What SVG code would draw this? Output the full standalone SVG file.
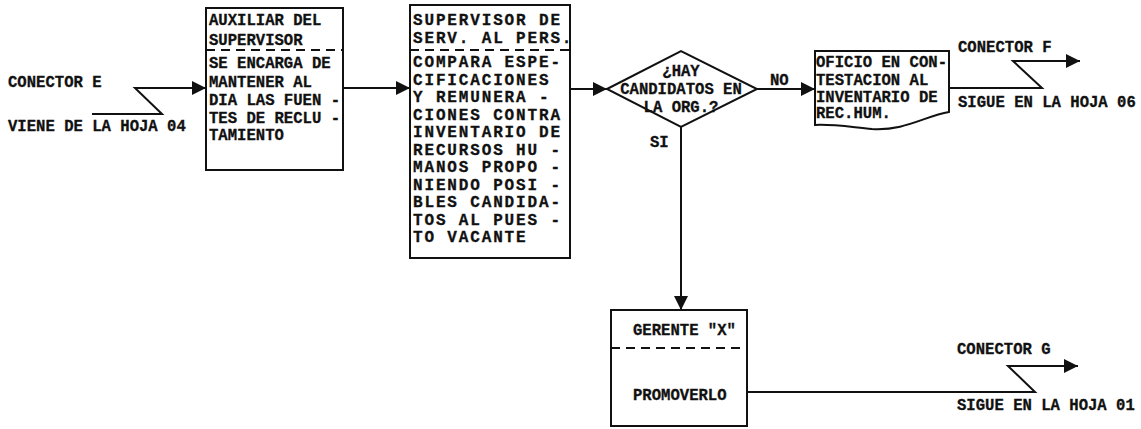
<svg xmlns="http://www.w3.org/2000/svg" width="1141" height="429" viewBox="0 0 1141 429">
  <style>
    .t { font-family: "Liberation Mono", "DejaVu Sans Mono", monospace; font-weight: bold; font-size: 15.6px; fill: #111; stroke: #111; stroke-width: 0.3px; }
    .w { letter-spacing: 1.85px; font-size: 16px; }
    .box { fill: #fff; stroke: #111; stroke-width: 2; }
    .dash { fill: none; stroke: #111; stroke-width: 2; stroke-dasharray: 9 6; }
    .ln { fill: none; stroke: #111; stroke-width: 2; }
  </style>
  <defs>
    <marker id="arrow" viewBox="0 0 14 14" refX="14" refY="7" markerWidth="14" markerHeight="14" markerUnits="userSpaceOnUse" orient="auto">
      <path d="M0,0 L14,7 L0,14 Z" fill="#111"/>
    </marker>
  </defs>
  <rect width="1141" height="429" fill="#fff"/>

  <!-- flow lines -->
  <g id="connectors">
    <path class="ln" d="M92,114 H162 L135,88 H206" marker-end="url(#arrow)"/>
    <path class="ln" d="M343,88 H410" marker-end="url(#arrow)"/>
    <path class="ln" d="M570,89 H607" marker-end="url(#arrow)"/>
    <path class="ln" d="M757,89 H815" marker-end="url(#arrow)"/>
    <path class="ln" d="M949,88 H1042 L1013,61 H1080" marker-end="url(#arrow)"/>
    <path class="ln" d="M681,127 V310" marker-end="url(#arrow)"/>
    <path class="ln" d="M747,392 H1035 L1008,366 H1078" marker-end="url(#arrow)"/>
  </g>

  <!-- off-page connector labels -->
  <g id="conn-e">
    <text class="t" x="8" y="87">CONECTOR E</text>
    <text class="t" x="8" y="131">VIENE DE LA HOJA 04</text>
  </g>
  <g id="conn-f">
    <text class="t" x="958" y="52">CONECTOR F</text>
    <text class="t" x="958" y="107">SIGUE EN LA HOJA 06</text>
  </g>
  <g id="conn-g">
    <text class="t" x="957" y="354">CONECTOR G</text>
    <text class="t" x="957" y="410">SIGUE EN LA HOJA 01</text>
  </g>

  <!-- auxiliar del supervisor -->
  <g id="auxiliar">
    <rect class="box" x="206" y="8" width="137" height="162"/>
    <line class="dash" x1="206" y1="50" x2="343" y2="50"/>
    <text class="t" x="209" y="25">AUXILIAR  DEL</text>
    <text class="t" x="209" y="45">SUPERVISOR</text>
    <text class="t" x="209" y="68">SE ENCARGA DE</text>
    <text class="t" x="209" y="87">MANTENER AL</text>
    <text class="t" x="209" y="105">DIA LAS FUEN -</text>
    <text class="t" x="209" y="123">TES DE RECLU -</text>
    <text class="t" x="209" y="140">TAMIENTO</text>
  </g>

  <!-- supervisor de servicios al personal -->
  <g id="supervisor">
    <rect class="box" x="410" y="5" width="160" height="253"/>
    <line class="dash" x1="410" y1="50" x2="570" y2="50"/>
    <text class="t w" x="413" y="25">SUPERVISOR DE</text>
    <text class="t w" x="413" y="43">SERV. AL PERS.</text>
    <text class="t w" x="413" y="67">COMPARA ESPE-</text>
    <text class="t w" x="413" y="84.5">CIFICACIONES</text>
    <text class="t w" x="413" y="102">Y REMUNERA -</text>
    <text class="t w" x="413" y="119.5">CIONES CONTRA</text>
    <text class="t w" x="413" y="137">INVENTARIO DE</text>
    <text class="t w" x="413" y="154.5">RECURSOS HU -</text>
    <text class="t w" x="413" y="172">MANOS PROPO -</text>
    <text class="t w" x="413" y="189.5">NIENDO POSI -</text>
    <text class="t w" x="413" y="207">BLES CANDIDA-</text>
    <text class="t w" x="413" y="224.5">TOS AL PUES -</text>
    <text class="t w" x="413" y="242">TO VACANTE</text>
  </g>

  <!-- decision -->
  <g id="decision">
    <polygon class="box" points="607,89 681,51 757,89 681,127"/>
    <text class="t" x="681" y="76" text-anchor="middle">¿HAY</text>
    <text class="t" x="681" y="94" text-anchor="middle">CANDIDATOS EN</text>
    <text class="t" x="681" y="112" text-anchor="middle">LA ORG.?</text>
    <text class="t" x="770" y="85">NO</text>
    <text class="t" x="650" y="147">SI</text>
  </g>

  <!-- oficio (document) -->
  <g id="oficio">
    <path class="box" d="M815,51 H949 V112 C925,116 905,131 872,129 C850,127 832,124 815,125 Z"/>
    <text class="t" x="816" y="67">OFICIO EN CON-</text>
    <text class="t" x="816" y="85">TESTACION AL</text>
    <text class="t" x="816" y="102">INVENTARIO DE</text>
    <text class="t" x="816" y="118">REC.HUM.</text>
  </g>

  <!-- gerente x -->
  <g id="gerente">
    <rect class="box" x="611" y="310" width="136" height="116"/>
    <line class="dash" x1="611" y1="348" x2="747" y2="348"/>
    <text class="t" x="633" y="335">GERENTE "X"</text>
    <text class="t" x="633" y="400">PROMOVERLO</text>
  </g>
</svg>
